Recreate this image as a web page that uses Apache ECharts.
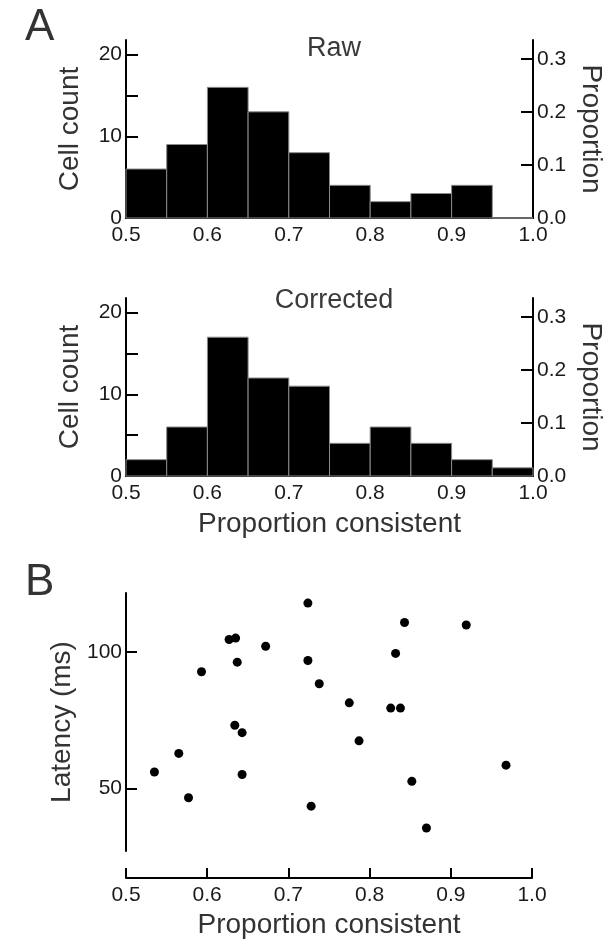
<!DOCTYPE html>
<html>
<head>
<meta charset="utf-8">
<script src="https://cdn.jsdelivr.net/npm/echarts@6/dist/echarts.min.js"></script>
<style>
html,body{margin:0;padding:0;background:#fff;}
#chart{width:606px;height:945px;}
</style>
</head>
<body>
<div id="chart"></div>
<script>
// ---- data ----
var binStarts = [0.50, 0.55, 0.60, 0.65, 0.70, 0.75, 0.80, 0.85, 0.90, 0.95];
var binWidth = 0.05;
var rawCounts = [6, 9, 16, 13, 8, 4, 2, 3, 4, 0];
var correctedCounts = [2, 6, 17, 12, 11, 4, 6, 4, 2, 1];
var totalCells = 65;
var xTicks = [0.5, 0.6, 0.7, 0.8, 0.9, 1.0];
var countTicks = [0, 5, 10, 15, 20];
var countLabels = [0, 10, 20];
var propTicks = [0, 0.1, 0.2, 0.3];
var latencyTicks = [50, 100];
var scatterX = [0.724, 0.843, 0.919, 0.627, 0.635, 0.672, 0.832, 0.724, 0.637, 0.593,
                0.738, 0.775, 0.826, 0.838, 0.634, 0.643, 0.787, 0.565, 0.535, 0.968,
                0.643, 0.852, 0.577, 0.728, 0.870];
var scatterY = [117.9, 110.8, 109.9, 104.6, 105.1, 102.1, 99.5, 96.9, 96.3, 92.8,
                88.4, 81.4, 79.5, 79.5, 73.2, 70.5, 67.5, 62.9, 56.1, 58.6,
                55.2, 52.7, 46.7, 43.6, 35.6];

// ---- build ----
function histData(counts){
  return binStarts.map(function(s,i){ return [s, s + binWidth, counts[i]]; });
}
var scatterData = scatterX.map(function(x,i){ return [x, scatterY[i]]; });

var FONT = 'Liberation Sans, Arial, sans-serif';
var countMax = 21.8;
var propMax = countMax / totalCells;

function renderBar(params, api){
  var x0 = api.value(0), x1 = api.value(1), y = api.value(2);
  var p0 = api.coord([x0, y]);
  var p1 = api.coord([x1, 0]);
  return {
    type: 'rect',
    shape: {x: p0[0], y: p0[1], width: p1[0] - p0[0], height: p1[1] - p0[1]},
    style: {fill: '#000', stroke: '#8a8a8a', lineWidth: 1}
  };
}

var lineStyle = {color: '#000', width: 2};
var labelStyle = {color: '#1a1a1a', fontSize: 21, fontFamily: FONT};
var nameStyle = {color: '#333', fontSize: 28, fontFamily: FONT};

function histX(gi, withName){
  var a = {
    type: 'value', gridIndex: gi, min: 0.5, max: 1.0, interval: 0.1,
    axisLine: {show: true, onZero: false, lineStyle: lineStyle},
    axisTick: {show: false},
    splitLine: {show: false},
    axisLabel: Object.assign({margin: 7, formatter: function(v){ return v.toFixed(1); },
                customValues: xTicks}, labelStyle)
  };
  if (withName){
    a.name = 'Proportion consistent';
    a.nameLocation = 'middle';
    a.nameGap = 34;
    a.nameTextStyle = nameStyle;
  }
  return a;
}
function countY(gi){
  return {
    type: 'value', gridIndex: gi, position: 'left', min: 0, max: countMax,
    name: 'Cell count', nameLocation: 'middle', nameGap: 42, nameTextStyle: nameStyle,
    axisLine: {show: true, lineStyle: lineStyle},
    axisTick: {show: true, inside: true, length: 12, lineStyle: lineStyle, customValues: countTicks},
    axisLabel: Object.assign({margin: 4, customValues: countLabels}, labelStyle),
    splitLine: {show: false}
  };
}
function propY(gi){
  return {
    type: 'value', gridIndex: gi, position: 'right', min: 0, max: propMax,
    name: 'Proportion', nameLocation: 'middle', nameGap: 44, nameRotate: -90, nameTextStyle: nameStyle,
    axisLine: {show: true, lineStyle: lineStyle},
    axisTick: {show: true, inside: true, length: 12, lineStyle: lineStyle, customValues: propTicks},
    axisLabel: Object.assign({margin: 4, customValues: propTicks,
                formatter: function(v){ return v.toFixed(1); }}, labelStyle),
    splitLine: {show: false}
  };
}

var titleStyle = {fontSize: 27, fontWeight: 'normal', color: '#3a3a3a', fontFamily: FONT};
var letterStyle = {fontSize: 44, fontWeight: 'normal', color: '#333', fontFamily: FONT};

var option = {
  animation: false,
  backgroundColor: '#fff',
  title: [
    {text: 'A', left: 20, top: 1, textStyle: letterStyle},
    {text: 'Raw', left: 329, top: 30, textAlign: 'center', textStyle: titleStyle},
    {text: 'Corrected', left: 329, top: 282, textAlign: 'center', textStyle: titleStyle},
    {text: 'B', left: 20, top: 556, textStyle: letterStyle}
  ],
  grid: [
    {left: 126, top: 40, width: 407, height: 178, containLabel: false, outerBoundsMode: 'none'},
    {left: 126, top: 298, width: 407, height: 178, containLabel: false, outerBoundsMode: 'none'},
    {left: 126, top: 593, width: 406, height: 258, containLabel: false, outerBoundsMode: 'none'}
  ],
  xAxis: [
    histX(0, false),
    histX(1, true),
    {
      type: 'value', gridIndex: 2, min: 0.5, max: 1.0, interval: 0.1, offset: 27,
      name: 'Proportion consistent', nameLocation: 'middle', nameGap: 33, nameTextStyle: nameStyle,
      axisLine: {show: true, onZero: false, lineStyle: lineStyle},
      axisTick: {show: true, inside: true, length: 10, lineStyle: lineStyle},
      axisLabel: Object.assign({margin: 7, formatter: function(v){ return v.toFixed(1); }}, labelStyle),
      splitLine: {show: false}
    }
  ],
  yAxis: [
    countY(0), propY(0), countY(1), propY(1),
    {
      type: 'value', gridIndex: 2, min: 27.2, max: 121.6,
      name: 'Latency (ms)', nameLocation: 'middle', nameGap: 49, nameTextStyle: nameStyle,
      axisLine: {show: true, lineStyle: lineStyle},
      axisTick: {show: true, inside: true, length: 11, lineStyle: lineStyle, customValues: latencyTicks},
      axisLabel: Object.assign({margin: 4, customValues: latencyTicks}, labelStyle),
      splitLine: {show: false}
    }
  ],
  series: [
    {type: 'custom', xAxisIndex: 0, yAxisIndex: 0, renderItem: renderBar,
     encode: {x: [0, 1], y: 2}, data: histData(rawCounts), z: 1},
    {type: 'custom', xAxisIndex: 1, yAxisIndex: 2, renderItem: renderBar,
     encode: {x: [0, 1], y: 2}, data: histData(correctedCounts), z: 1},
    {type: 'scatter', xAxisIndex: 2, yAxisIndex: 4, symbolSize: 9,
     itemStyle: {color: '#000', opacity: 1}, data: scatterData}
  ]
};

var chart = echarts.init(document.getElementById('chart'), null, {renderer: 'canvas'});
chart.setOption(option);
</script>
</body>
</html>
